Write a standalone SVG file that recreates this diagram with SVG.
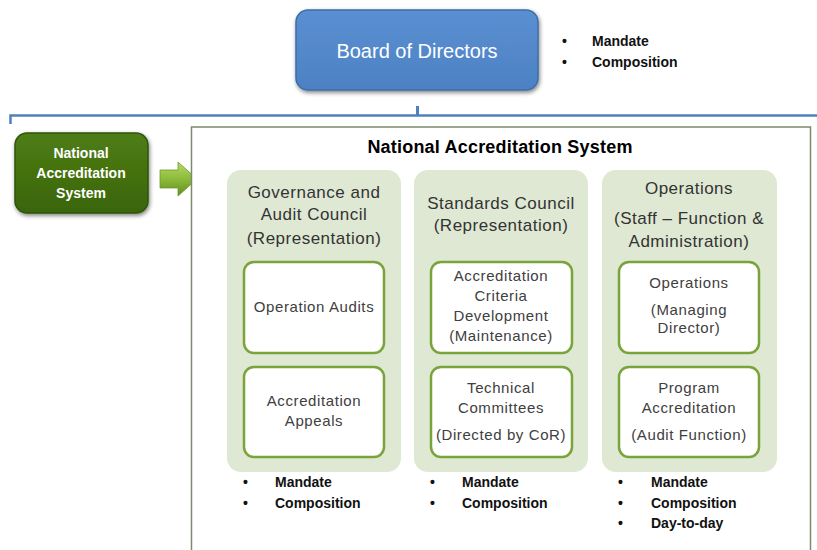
<svg xmlns="http://www.w3.org/2000/svg" width="817" height="550" viewBox="0 0 817 550">
<defs>
<linearGradient id="gBlue" x1="0" y1="0" x2="0" y2="1"><stop offset="0" stop-color="#5a8fd2"/><stop offset="1" stop-color="#4c82c4"/></linearGradient>
<linearGradient id="gDark" x1="0" y1="0" x2="0" y2="1"><stop offset="0" stop-color="#4e7d14"/><stop offset="1" stop-color="#3a650c"/></linearGradient>
<linearGradient id="gArrow" x1="0" y1="0" x2="0" y2="1"><stop offset="0" stop-color="#b8d86a"/><stop offset="0.5" stop-color="#8cbb3a"/><stop offset="1" stop-color="#5f8f1e"/></linearGradient>
<filter id="sh" x="-10%" y="-10%" width="125%" height="130%"><feGaussianBlur in="SourceAlpha" stdDeviation="2"/><feOffset dx="1" dy="2"/><feComponentTransfer><feFuncA type="linear" slope="0.5"/></feComponentTransfer><feMerge><feMergeNode/><feMergeNode in="SourceGraphic"/></feMerge></filter>
</defs>
<style>
.col{fill:#dfe8d3}
.inner{fill:#ffffff;stroke:#79a33b;stroke-width:2.5}
.hd{font-family:"Liberation Sans",Arial,sans-serif;font-size:17px;letter-spacing:0.5px;fill:#333333;text-anchor:middle}
.in{font-family:"Liberation Sans",Arial,sans-serif;font-size:15px;letter-spacing:0.6px;fill:#404040;text-anchor:middle}
.bl{font-family:"Liberation Sans",Arial,sans-serif;font-size:14px;font-weight:bold;fill:#111111}
.wt{font-family:"Liberation Sans",Arial,sans-serif;fill:#ffffff;text-anchor:middle}
</style>
<rect width="817" height="550" fill="#ffffff"/>

<g id="connectors">
<path d="M10.5,124 V115.5 H817" fill="none" stroke="#4f81bd" stroke-width="2.5"/>
<path d="M417.5,106 V115" fill="none" stroke="#4f81bd" stroke-width="3"/>
<path id="arrow" d="M160,170 H178 V162 L197,179 L178,196 V188 H160 Z" fill="url(#gArrow)" stroke="#6f9a2a" stroke-width="0.8"/>
</g>

<g id="board">
<rect x="296" y="10" width="242" height="80" rx="12" fill="url(#gBlue)" stroke="#3d6ea8" stroke-width="1.5" filter="url(#sh)"/>
<text class="wt" x="417" y="58" font-size="20">Board of Directors</text>
</g>
<g id="board-notes">
<text class="bl" x="562" y="46">•</text><text class="bl" x="592" y="46">Mandate</text>
<text class="bl" x="562" y="67">•</text><text class="bl" x="592" y="67">Composition</text>
</g>

<g id="nas-label">
<rect x="15" y="133" width="133" height="80" rx="12" fill="url(#gDark)" stroke="#2f5508" stroke-width="1.5" filter="url(#sh)"/>
<text class="wt" x="81" y="158" font-size="14" font-weight="bold">National</text>
<text class="wt" x="81" y="178" font-size="14" font-weight="bold">Accreditation</text>
<text class="wt" x="81" y="198" font-size="14" font-weight="bold">System</text>
</g>

<g id="nas-system">
<rect x="191.5" y="127" width="619" height="430" fill="#ffffff" stroke="#7b8a6a" stroke-width="1.5"/>
<text x="500" y="153" font-family="Liberation Sans,Arial,sans-serif" font-size="18" font-weight="bold" letter-spacing="0.2" fill="#000000" text-anchor="middle">National Accreditation System</text>
</g>

<g id="governance">
<rect class="col" x="227" y="170" width="174" height="302" rx="14"/>
<text class="hd" x="314" y="198">Governance and</text>
<text class="hd" x="314" y="220">Audit  Council</text>
<text class="hd" x="314" y="244">(Representation)</text>
<g id="operation-audits"><rect class="inner" x="244" y="262" width="140" height="91" rx="10"/>
<text class="in" x="314" y="312">Operation Audits</text></g>
<g id="accreditation-appeals"><rect class="inner" x="244" y="367" width="140" height="90" rx="10"/>
<text class="in" x="314" y="406">Accreditation</text>
<text class="in" x="314" y="426">Appeals</text></g>
<text class="bl" x="243" y="487">•</text><text class="bl" x="275" y="487">Mandate</text>
<text class="bl" x="243" y="508">•</text><text class="bl" x="275" y="508">Composition</text>
</g>

<g id="standards">
<rect class="col" x="414" y="170" width="174" height="302" rx="14"/>
<text class="hd" x="501" y="209">Standards Council</text>
<text class="hd" x="501" y="231">(Representation)</text>
<g id="criteria-development"><rect class="inner" x="431" y="262" width="141" height="91" rx="10"/>
<text class="in" x="501" y="281">Accreditation</text>
<text class="in" x="501" y="301">Criteria</text>
<text class="in" x="501" y="321">Development</text>
<text class="in" x="501" y="341">(Maintenance)</text></g>
<g id="technical-committees"><rect class="inner" x="431" y="367" width="141" height="90" rx="10"/>
<text class="in" x="501" y="393">Technical</text>
<text class="in" x="501" y="413">Committees</text>
<text class="in" x="501" y="440">(Directed by CoR)</text></g>
<text class="bl" x="430" y="487">•</text><text class="bl" x="462" y="487">Mandate</text>
<text class="bl" x="430" y="508">•</text><text class="bl" x="462" y="508">Composition</text>
</g>

<g id="operations">
<rect class="col" x="602" y="170" width="175" height="302" rx="14"/>
<text class="hd" x="689" y="194">Operations</text>
<text class="hd" x="689" y="224">(Staff – Function &amp;</text>
<text class="hd" x="689" y="247">Administration)</text>
<g id="managing-director"><rect class="inner" x="619" y="262" width="140" height="91" rx="10"/>
<text class="in" x="689" y="288">Operations</text>
<text class="in" x="689" y="315">(Managing</text>
<text class="in" x="689" y="333">Director)</text></g>
<g id="program-accreditation"><rect class="inner" x="619" y="367" width="140" height="90" rx="10"/>
<text class="in" x="689" y="393">Program</text>
<text class="in" x="689" y="413">Accreditation</text>
<text class="in" x="689" y="440">(Audit Function)</text></g>
<text class="bl" x="618" y="487">•</text><text class="bl" x="651" y="487">Mandate</text>
<text class="bl" x="618" y="508">•</text><text class="bl" x="651" y="508">Composition</text>
<text class="bl" x="618" y="528">•</text><text class="bl" x="651" y="528">Day-to-day</text>
</g>
</svg>
